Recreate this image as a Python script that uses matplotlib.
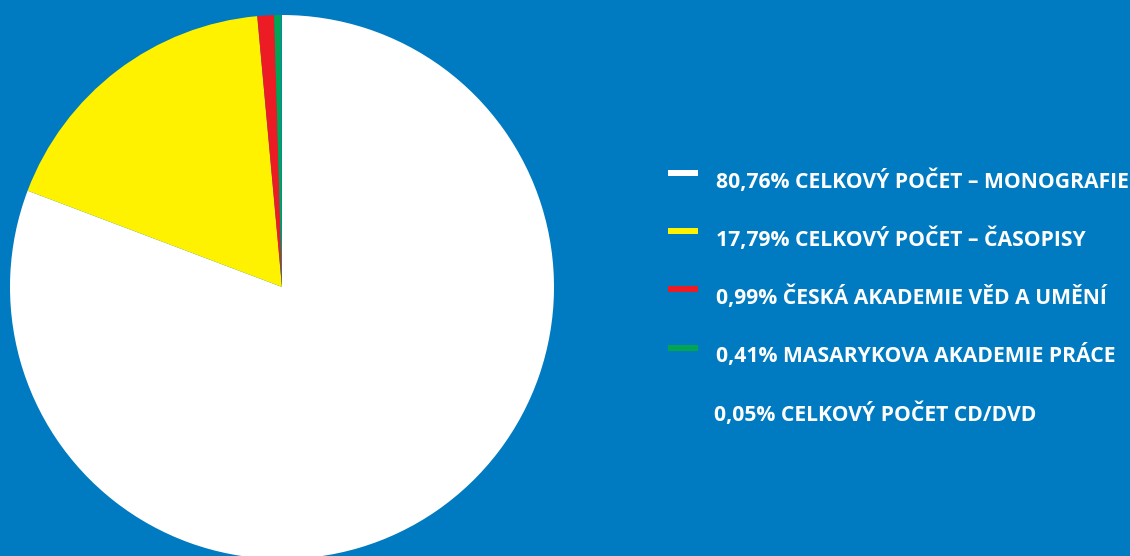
import matplotlib.pyplot as plt
from matplotlib.patches import Rectangle

# data
labels = ["80,76% CELKOVÝ POČET – MONOGRAFIE",
          "17,79% CELKOVÝ POČET – ČASOPISY",
          "0,99% ČESKÁ AKADEMIE VĚD A UMĚNÍ",
          "0,41% MASARYKOVA AKADEMIE PRÁCE",
          "0,05% CELKOVÝ POČET CD/DVD"]
shares = [80.76, 17.79, 0.99, 0.41, 0.05]
colors = ["#ffffff", "#fff200", "#ed1c24", "#00a651", "#0a84c6"]
show_marker = [True, True, True, True, False]

bg = "#007bc1"
W, H = 1130, 556

fig = plt.figure(figsize=(W / 100, H / 100), dpi=100)
fig.patch.set_facecolor(bg)
ax = fig.add_axes([0, 0, 1, 1])
ax.set_facecolor(bg)

ax.pie(shares, colors=colors, startangle=90, counterclock=False,
       center=(282, H - 287), radius=272, frame=True,
       wedgeprops=dict(linewidth=0))
ax.set_xlim(0, W)
ax.set_ylim(0, H)
ax.set_aspect("equal")
ax.axis("off")

# legend
y0, step = 181, 58.2
for i, (lab, col) in enumerate(zip(labels, colors)):
    ty = y0 + i * step
    if show_marker[i]:
        ax.add_patch(Rectangle((668, H - (ty - 5)), 30, 6, facecolor=col,
                               edgecolor="none"))
    tx = 716 if show_marker[i] else 714
    ax.text(tx, H - ty, lab, color="white", fontsize=15.2,
            fontfamily="Open Sans", fontweight="bold", va="center", ha="left")

fig.savefig("out.png", dpi=100, facecolor=bg)
